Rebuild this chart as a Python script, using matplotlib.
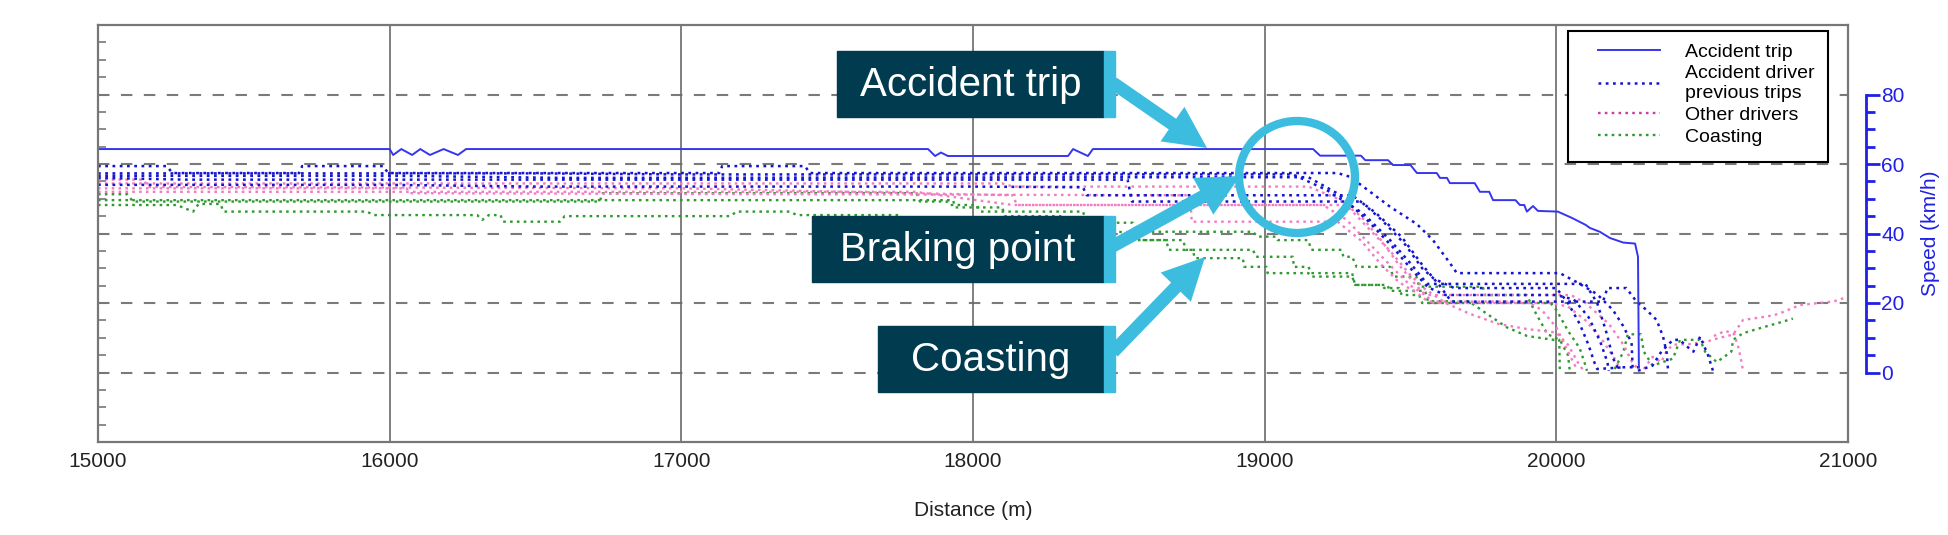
import matplotlib
matplotlib.use('Agg')
import matplotlib.pyplot as plt
from matplotlib.patches import Rectangle, FancyArrow, Ellipse
from matplotlib.ticker import FixedLocator

plt.rcParams['font.family'] = ['Liberation Sans', 'DejaVu Sans']

# ---- values: distance (m), speed (km/h) ----
acc_d = [15000, 16000, 16012, 16040, 16077, 16105, 16138, 16185, 16234, 16262,
         17846, 17870, 17890, 17914, 18326, 18343, 18394, 18411, 19166, 19190,
         19330, 19345, 19423, 19440, 19500, 19522, 19590, 19601, 19625, 19635,
         19720, 19738, 19770, 19783, 19860, 19875, 19890, 19899, 19920, 19937,
         20005, 20053, 20100, 20115, 20149, 20184, 20229, 20270, 20280, 20283]
acc_v = [64.3, 64.3, 62.6, 64.3, 62.6, 64.3, 62.6, 64.3, 62.6, 64.3,
         64.3, 62.3, 63.3, 62.3, 62.3, 64.3, 62.3, 64.3, 64.3, 62.4,
         62.4, 61.1, 61.1, 59.7, 59.7, 57.4, 57.4, 56.0, 56.0, 54.5,
         54.5, 52.0, 52.0, 49.6, 49.6, 48.2, 48.2, 46.3, 47.9, 46.5,
         46.3, 44.5, 42.5, 41.6, 40.5, 38.7, 37.4, 37.1, 33.3, 1.5]

prev_trips = [
    ([15000, 15236, 15255, 15690, 15700, 15977, 15995, 17130, 17140, 17424, 17440, 19250,
      19293, 19430, 19522, 19577, 19635, 19659, 20012, 20070, 20139, 20194, 20229, 20258, 20262],
     [59.4, 59.4, 57.4, 57.4, 59.4, 59.4, 57.4, 57.4, 59.4, 59.4, 57.4, 57.4,
      56.3, 47.7, 42.7, 38.1, 31.5, 28.6, 28.6, 26.0, 22.6, 18.0, 13.4, 8.6, 0.5]),
    ([15000, 16500, 17000, 19097, 19213, 19337, 19430, 19499, 19557, 20100, 20140, 20170,
      20195, 20210, 20290],
     [57.3, 57.3, 57.0, 57.0, 52.5, 45.8, 38.1, 31.5, 25.5, 25.5, 20.0, 12.0,
      4.0, 1.5, 1.5]),
    ([15000, 16020, 16600, 18700, 19150, 19250, 19350, 19440, 19500, 19560, 19620, 20000,
      20060, 20110, 20150, 20175, 20180],
     [56.6, 56.6, 56.0, 56.2, 56.2, 51.5, 44.0, 36.0, 30.0, 24.5, 22.3, 22.3,
      21.0, 16.0, 9.0, 3.0, 0.5]),
    ([15000, 16000, 16500, 18000, 18377, 18390, 19300, 19380, 19470, 19540, 19600, 19640,
      20160, 20175, 20240, 20275, 20309, 20344, 20366, 20379, 20383],
     [54.0, 54.0, 53.5, 53.5, 53.3, 51.0, 51.0, 46.0, 39.0, 31.0, 25.0, 20.4,
      20.4, 24.3, 24.3, 20.4, 18.0, 15.1, 10.3, 5.4, 0.5]),
    ([15000, 15300, 18530, 18545, 19330, 19400, 19480, 19540, 19580, 19650, 20000, 20040,
      20080, 20110, 20130, 20140, 20230],
     [56.0, 55.5, 55.5, 49.2, 49.2, 44.0, 37.0, 30.0, 27.0, 24.3, 24.3, 20.0,
      14.0, 8.0, 3.0, 1.0, 1.5]),
    ([20280, 20330, 20360, 20400, 20424, 20440, 20470, 20493, 20520, 20537],
     [0.5, 2.0, 6.0, 9.4, 9.4, 8.0, 6.0, 10.3, 5.0, 0.5]),
]

other_drivers = [
    ([15000, 18100, 18137, 19150, 19250, 19330, 19400, 19460, 19520, 19578, 19977, 20040,
      20100, 20160, 20200, 20220],
     [54.4, 54.4, 53.5, 53.5, 50.0, 45.0, 38.0, 31.0, 25.0, 20.0, 20.0, 19.0,
      15.0, 9.0, 4.0, 1.0]),
    ([15000, 15156, 15170, 17000, 18137, 18150, 19200, 19280, 19360, 19440, 19500, 19550,
      20050, 20100, 20180, 20230, 20260, 20280],
     [55.5, 55.5, 53.4, 53.0, 51.0, 48.2, 48.2, 44.0, 37.0, 30.0, 25.0, 22.3,
      22.3, 20.0, 14.0, 8.0, 3.0, 1.0]),
    ([15000, 16058, 16070, 18744, 18750, 19250, 19330, 19400, 19460, 19520, 19560, 19900,
      19950, 20000, 20040, 20070],
     [53.0, 53.0, 51.6, 51.0, 43.4, 43.4, 38.0, 31.0, 26.0, 23.0, 20.4, 20.4,
      18.0, 13.0, 6.0, 1.0]),
    ([15000, 17800, 18137, 19280, 19350, 19430, 19500, 19550, 19620, 19700, 19800, 19900,
      20000, 20040, 20080, 20095],
     [52.0, 52.0, 48.2, 48.2, 42.0, 35.0, 28.0, 24.0, 20.0, 17.0, 14.0, 12.5,
      11.5, 8.0, 2.0, 0.5]),
    ([20300, 20330, 20360, 20379, 20400, 20460, 20520, 20560, 20606, 20640, 20720, 20760,
      20835, 20900, 20949, 21000],
     [1.0, 4.5, 3.0, 6.3, 8.0, 8.2, 9.0, 10.0, 10.9, 15.1, 16.1, 16.8,
      19.4, 20.0, 20.4, 21.8]),
    ([20540, 20580, 20610, 20625, 20635, 20640],
     [10.5, 12.0, 11.0, 7.0, 3.0, 0.5]),
]

coasting = [
    ([15000, 15100, 15120, 16720, 16730, 17807, 17818, 17911, 17920, 18013, 18025, 18377,
      18390, 18548, 18560, 18960, 18975, 19040, 19045, 19149, 19160, 19263, 19270, 19300,
      19315, 19430, 19440, 19520, 19530, 19748, 19755, 19898, 19930, 19970, 20012, 20040, 20046],
     [51.3, 51.3, 49.2, 49.2, 51.6, 51.6, 49.2, 49.2, 48.2, 48.2, 46.3, 46.3,
      43.1, 43.1, 40.5, 40.5, 39.1, 39.1, 38.1, 38.1, 35.3, 35.3, 33.3, 33.3,
      30.4, 30.4, 27.6, 27.6, 24.7, 24.7, 22.3, 22.3, 17.0, 11.0, 9.4, 5.0, 0.5]),
    ([15000, 15270, 15326, 15345, 15420, 15430, 15922, 15945, 16300, 16317, 16340, 16380,
      16389, 16584, 16600, 17167, 17190, 17372, 17396, 17750, 17760, 18100, 18110, 18400,
      18410, 18720, 18730, 18960, 18970, 19097, 19100, 19150, 19160, 19300, 19310, 19400,
      19410, 19460, 19470, 19530, 19540, 19980, 20000, 20040, 20080, 20100, 20105],
     [48.2, 48.2, 46.3, 48.5, 48.5, 46.3, 46.3, 45.3, 45.3, 43.9, 45.3, 45.3,
      43.4, 43.4, 45.0, 45.0, 46.3, 46.3, 45.3, 45.3, 43.4, 43.4, 41.0, 41.0,
      38.1, 38.1, 35.3, 35.3, 33.3, 33.3, 30.4, 30.4, 28.6, 28.6, 25.2, 25.2,
      24.3, 24.3, 22.3, 22.3, 20.0, 20.0, 18.0, 12.0, 7.0, 2.0, 0.5]),
    ([15000, 17931, 17940, 18100, 18110, 18300, 18310, 18560, 18572, 18663, 18670, 18754,
      18760, 18925, 18930, 19006, 19010, 19150, 19160, 19300, 19310, 19420, 19430, 19550,
      19560, 19700, 19760, 19830, 19900, 19990, 20010, 20012],
     [49.6, 49.6, 47.5, 47.5, 45.0, 45.0, 42.0, 40.0, 38.1, 38.1, 35.3, 35.3,
      32.9, 32.9, 30.4, 30.4, 28.6, 28.6, 27.6, 27.6, 25.2, 25.2, 23.5, 23.5,
      20.5, 20.5, 17.0, 13.0, 10.5, 9.4, 9.4, 0.5]),
    ([20200, 20230, 20245, 20290, 20300, 20330, 20400, 20424, 20493, 20510, 20550, 20600,
      20606, 20640, 20700, 20755, 20811],
     [1.0, 6.0, 11.0, 11.0, 6.0, 2.0, 4.0, 9.4, 9.4, 6.0, 3.0, 6.0,
      9.4, 11.3, 12.8, 14.1, 15.5]),
]

x_ticks = [15000, 16000, 17000, 18000, 19000, 20000, 21000]
grid_speeds = [0, 20, 40, 60, 80]
legend_labels = ['Accident trip', 'Accident driver\nprevious trips', 'Other drivers', 'Coasting']
callout_labels = ['Accident trip', 'Braking point', 'Coasting']

# ---- styling ----
c_acc = '#3535f0'
c_prev = '#1414d2'
c_other = '#f27cc2'
c_coast = '#2f9a2f'
c_grid = '#7a7a7a'
c_box = '#003b4f'
c_light = '#3cbde0'
dots = (0, (1.1, 1.8))

fig = plt.figure(figsize=(19.49, 5.35), dpi=100)
ax = fig.add_axes([98 / 1949, 93 / 535, 1750 / 1949, 417 / 535])

for d, v in coasting:
    ax.plot(d, v, color=c_coast, lw=1.7, ls=dots)
for d, v in other_drivers:
    ax.plot(d, v, color=c_other, lw=1.7, ls=dots)
for d, v in prev_trips:
    ax.plot(d, v, color=c_prev, lw=1.8, ls=dots)
ax.plot(acc_d, acc_v, color=c_acc, lw=1.4)

for s in grid_speeds:
    ax.axhline(s, color=c_grid, lw=1.5, ls=(0, (5.5, 5.5)), zorder=0)
for xv in x_ticks[1:-1]:
    ax.axvline(xv, color='#6a6a6a', lw=1.2, zorder=0)

ax.set_xlim(15000, 21000)
ax.set_ylim(-20, 100)
ax.set_xticks(x_ticks)
ax.set_xticklabels([str(t) for t in x_ticks])
ax.tick_params(axis='x', length=0, labelsize=15, pad=7, labelcolor='#222222')
ax.yaxis.set_major_locator(FixedLocator(list(range(-15, 100, 5))))
ax.yaxis.set_ticks_position('both')
ax.tick_params(axis='y', direction='in', length=6, width=1.2, color='#777777',
               labelleft=False, labelright=False)
for sp in ax.spines.values():
    sp.set_color('#777777')
    sp.set_linewidth(1.6)
ax.set_xlabel('Distance (m)', fontsize=15, labelpad=22, color='#222222')

# blue speed axis on the right
ax2 = ax.twinx()
ax2.set_ylim(-20, 100)
for k in ['left', 'top', 'bottom']:
    ax2.spines[k].set_visible(False)
ax2.spines['right'].set_position(('outward', 13))
ax2.spines['right'].set_bounds(0, 80)
ax2.spines['right'].set_color('#2020e6')
ax2.spines['right'].set_linewidth(2)
ax2.set_yticks(grid_speeds)
ax2.yaxis.set_minor_locator(FixedLocator([s for s in range(5, 80, 5) if s % 20]))
ax2.tick_params(axis='y', which='major', direction='out', length=10, width=2,
                color='#2020e6', labelcolor='#2020e6', labelsize=15, pad=1)
ax2.tick_params(axis='y', which='minor', direction='out', length=6.5, width=2, color='#2020e6')
ax2.set_ylabel('Speed (km/h)', color='#2020e6', fontsize=15, labelpad=12)

# overlay in pixel coordinates for the callouts and legend
ov = fig.add_axes([0, 0, 1, 1], facecolor='none')
ov.set_xlim(0, 1949)
ov.set_ylim(535, 0)
ov.axis('off')

boxes = [(837, 51, 1115, 117), (812, 216, 1115, 282), (878, 326, 1115, 392)]
for (x0, y0, x1, y1), lab in zip(boxes, callout_labels):
    ov.add_patch(Rectangle((x0, y0), x1 - 11 - x0, y1 - y0, color=c_box, zorder=3))
    ov.add_patch(Rectangle((x1 - 11, y0), 11, y1 - y0, color=c_light, zorder=3))
    ov.text((x0 + x1 - 11) / 2, (y0 + y1) / 2 + 1, lab, color='white', fontsize=29,
            ha='center', va='center', zorder=4)

arrows = [((1113, 83), (1207, 148)), ((1113, 246), (1240, 176)), ((1113, 352), (1205, 257))]
for (sx, sy), (tx, ty) in arrows:
    ov.add_patch(FancyArrow(sx, sy, tx - sx, ty - sy, width=13, head_width=42, head_length=42,
                            length_includes_head=True, color=c_light, lw=0, zorder=5))
ov.add_patch(Ellipse((1297, 177), 116, 112, fill=False, ec=c_light, lw=6, zorder=5))

# legend
ov.add_patch(Rectangle((1568, 31), 260, 131, fc='white', ec='black', lw=1.5, zorder=6))
handles = [plt.Line2D([], [], color=c_acc, lw=1.4),
           plt.Line2D([], [], color=c_prev, lw=1.8, ls=dots),
           plt.Line2D([], [], color='#c8409e', lw=1.7, ls=dots),
           plt.Line2D([], [], color=c_coast, lw=1.7, ls=dots)]
leg = ov.legend(handles, legend_labels, loc='upper left', bbox_to_anchor=(1584, 30),
                bbox_transform=ov.transData, frameon=False, fontsize=14,
                handlelength=3.2, handletextpad=1.3, labelspacing=0.22, borderpad=0.2)
leg.set_zorder(7)

fig.savefig('out.png', dpi=100)
